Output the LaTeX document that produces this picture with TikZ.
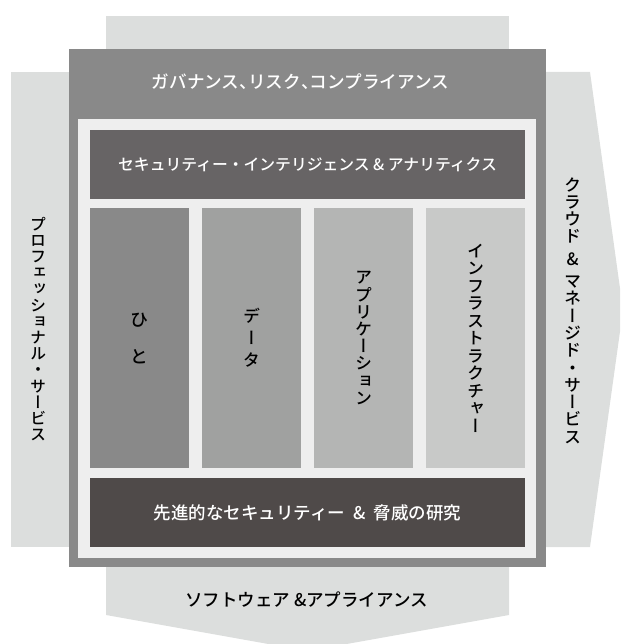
\documentclass[tikz,border=0pt]{standalone}
\usepackage{fontspec}
\IfFontExistsTF{Noto Sans CJK JP Medium}{%
  \newfontfamily\jpfont{Noto Sans CJK JP Medium}
  \newfontfamily\jpvfont[RawFeature=+vert]{Noto Sans CJK JP Medium}
  \newfontfamily\jphalt[RawFeature=+halt]{Noto Sans CJK JP Medium}
}{%
  \newfontfamily\jpfont[FakeBold=0.8]{Noto Sans CJK JP}
  \newfontfamily\jpvfont[RawFeature=+vert,FakeBold=0.8]{Noto Sans CJK JP}
  \newfontfamily\jphalt[RawFeature=+halt,FakeBold=0.8]{Noto Sans CJK JP}
}
\definecolor{arrowgray}{HTML}{DCDEDD}
\definecolor{framegray}{HTML}{898989}
\definecolor{innerlight}{HTML}{EEEEEE}
\definecolor{bartop}{HTML}{676465}
\definecolor{barbottom}{HTML}{4F4A49}
\definecolor{colA}{HTML}{898989}
\definecolor{colB}{HTML}{A0A1A0}
\definecolor{colC}{HTML}{B4B5B4}
\definecolor{colD}{HTML}{C8C9C8}
\tikzset{
  box/.style={rectangle, inner sep=0pt, outer sep=0pt, draw=none},
  whitetext/.style={text=white, inner sep=0pt},
  blacktext/.style={text=black, inner sep=0pt},
  vtext/.style={text=black, inner sep=0pt, align=center},
}
\begin{document}
\begin{tikzpicture}[x=1pt,y=-1pt]
\useasboundingbox (0,0) rectangle (620,644);
\clip (0,0) rectangle (620,644);
% background arrows
\fill[arrowgray] (106,16) rectangle (509,100);
\fill[arrowgray] (10.7,72) rectangle (80,547);
\fill[arrowgray] (530,72) -- (590,72) -- (623,310) -- (590,547) -- (530,547) -- cycle;
\fill[arrowgray] (106,540) -- (509,540) -- (509,615) -- (307.5,651) -- (106,615) -- cycle;
% frame
\node[box, fill=framegray, minimum width=477pt, minimum height=518pt] (frame) at (307.5,308) {};
\node[box, fill=innerlight, minimum width=458pt, minimum height=439pt] (inner) at (307,338.5) {};
\node[box, fill=bartop, minimum width=435pt, minimum height=69pt] (topbar) at (307.5,164.5) {};
\node[box, fill=barbottom, minimum width=435pt, minimum height=69pt] (botbar) at (307.5,512.5) {};
\node[box, fill=colA, minimum width=99pt, minimum height=260pt] (c1) at (139.5,338) {};
\node[box, fill=colB, minimum width=99pt, minimum height=260pt] (c2) at (251.5,338) {};
\node[box, fill=colC, minimum width=99pt, minimum height=260pt] (c3) at (363.5,338) {};
\node[box, fill=colD, minimum width=99pt, minimum height=260pt] (c4) at (475.5,338) {};
% texts
\node[whitetext, font=\jpfont\fontsize{17.6}{18}\selectfont] (title) at (300.5,82) {ガバナンス{\jphalt 、}リスク{\jphalt 、}コンプライアンス};
\node[whitetext, font=\jpfont\fontsize{15.8}{18}\selectfont] (toptxt) at (topbar.center) {セキュリティー・インテリジェンス \& アナリティクス};
\node[whitetext, font=\jpfont\fontsize{17.5}{18}\selectfont] (bottxt) at (botbar.center) {先進的なセキュリティー\hspace{4pt} \&\hspace{4pt} 脅威の研究};
\node[blacktext, font=\jpfont\fontsize{17.5}{18}\selectfont] (swtxt) at (306.5,600) {ソフトウェア \&アプライアンス};
\node[vtext, font=\jpvfont\fontsize{16}{16.2}\selectfont] (lefttxt) at (38,329) {プ\\ロ\\フ\\ェ\\ッ\\シ\\ョ\\ナ\\ル\\・\\サ\\ー\\ビ\\ス};
\node[vtext, font=\jpvfont\fontsize{17}{17.3}\selectfont] (righttxt) at (572.7,310.5) {ク\\ラ\\ウ\\ド\\[5pt]\&\\[5pt]マ\\ネ\\ー\\ジ\\ド\\・\\サ\\ー\\ビ\\ス};
\node[vtext, font=\jpvfont\fontsize{18}{37}\selectfont] (t1) at (c1.center) {ひ\\と};
\node[vtext, font=\jpvfont\fontsize{17}{22}\selectfont] (t2) at (c2.center) {デ\\ー\\タ};
\node[vtext, font=\jpvfont\fontsize{17}{17.2}\selectfont] (t3) at (c3.center) {ア\\プ\\リ\\ケ\\ー\\シ\\ョ\\ン};
\node[vtext, font=\jpvfont\fontsize{17}{17.5}\selectfont] (t4) at (c4.center) {イ\\ン\\フ\\ラ\\ス\\ト\\ラ\\ク\\チ\\ャ\\ー};
\end{tikzpicture}
\end{document}
